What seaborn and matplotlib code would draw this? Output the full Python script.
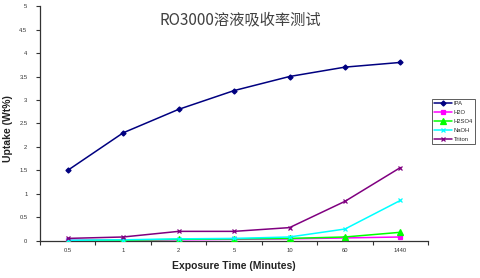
import matplotlib
matplotlib.use("Agg")
import matplotlib.pyplot as plt
import seaborn as sns
import pandas as pd
from matplotlib.ticker import FixedLocator, FixedFormatter

times = ["0.5", "1", "2", "5", "10", "60", "1440"]
ipa = [1.5, 2.3, 2.8, 3.2, 3.5, 3.7, 3.8]
h2o = [0.01, 0.01, 0.02, 0.03, 0.04, 0.06, 0.08]
h2so4 = [0.0, 0.01, 0.03, 0.04, 0.05, 0.08, 0.18]
naoh = [0.01, 0.02, 0.04, 0.05, 0.08, 0.25, 0.86]
triton = [0.05, 0.08, 0.2, 0.2, 0.28, 0.84, 1.56]
y_ticks = [0, 0.5, 1, 1.5, 2, 2.5, 3, 3.5, 4, 4.5, 5]
y_labels = ["0", "0.5", "1", "1.5", "2", "2.5", "3", "3.5", "4", "4.5", "5"]

series = {"IPA": ipa, "H2O": h2o, "H2SO4": h2so4, "NaOH": naoh, "Triton": triton}
colors = {"IPA": "#000080", "H2O": "#FF00FF", "H2SO4": "#00FF00",
          "NaOH": "#00FFFF", "Triton": "#800080"}
markers = {"IPA": "D", "H2O": "s", "H2SO4": "^", "NaOH": "x", "Triton": "x"}
msize = {"IPA": 2.6, "H2O": 3.2, "H2SO4": 3.8, "NaOH": 3.5, "Triton": 3.5}

rows = []
for name, vals in series.items():
    for i, v in enumerate(vals):
        rows.append({"pos": i, "time": times[i], "value": v, "series": name})
df = pd.DataFrame(rows)

sns.set_theme(style="white")
plt.rcParams['font.family'] = ['Liberation Sans', 'Noto Sans CJK SC', 'DejaVu Sans']

fig = plt.figure(figsize=(4.8, 2.78), dpi=100)
ax = fig.add_axes([0.0833, 0.134, 0.8087, 0.844])

order = list(series.keys())
for name in order:
    sub = df[df["series"] == name]
    sns.lineplot(data=sub, x="pos", y="value", ax=ax, color=colors[name],
                 marker=markers[name], markersize=msize[name],
                 markeredgecolor=colors[name], markeredgewidth=0.9,
                 linewidth=1.1, label=name, sort=False, zorder=3)

ax.set_xlim(-0.5, len(times) - 0.5)
ax.set_ylim(0, 5)
ax.xaxis.set_major_locator(FixedLocator(list(range(len(times)))))
ax.xaxis.set_major_formatter(FixedFormatter(times))
ax.xaxis.set_minor_locator(FixedLocator([i - 0.5 for i in range(len(times) + 1)]))
ax.yaxis.set_major_locator(FixedLocator(y_ticks))
ax.yaxis.set_major_formatter(FixedFormatter(y_labels))
ax.tick_params(axis="x", which="major", length=0, labelsize=4.2, pad=5, colors="#333333")
ax.tick_params(axis="x", which="minor", length=3, width=0.8, direction="out", color="#333333", bottom=True)
ax.tick_params(axis="y", which="major", length=3, width=0.8, direction="out", labelsize=4.2,
               colors="#333333", left=True, pad=6)

for s in ["top", "right"]:
    ax.spines[s].set_visible(False)
for s in ["left", "bottom"]:
    ax.spines[s].set_color("#333333")
    ax.spines[s].set_linewidth(0.9)

ax.set_xlabel("Exposure Time (Minutes)", fontsize=7.5, fontweight="bold", color="#222222", labelpad=6)
ax.set_ylabel("Uptake (Wt%)", fontsize=7.5, fontweight="bold", color="#222222", labelpad=2)
ax.yaxis.set_label_coords(-0.07, 0.48)
fig.text(0.5, 0.93, "RO3000溶液吸收率测试", ha="center", va="center", fontsize=11,
         color="#404040", family=['Noto Sans CJK SC', 'DejaVu Sans'])

leg = ax.legend(loc="upper left", bbox_to_anchor=(1.01, 0.604), fontsize=4.2,
                frameon=True, fancybox=False, edgecolor="#333333", handlelength=3,
                handletextpad=0.3, labelspacing=0.65, borderpad=0.4, borderaxespad=0)
leg.get_frame().set_linewidth(0.7)

fig.savefig("out.png", dpi=100)
